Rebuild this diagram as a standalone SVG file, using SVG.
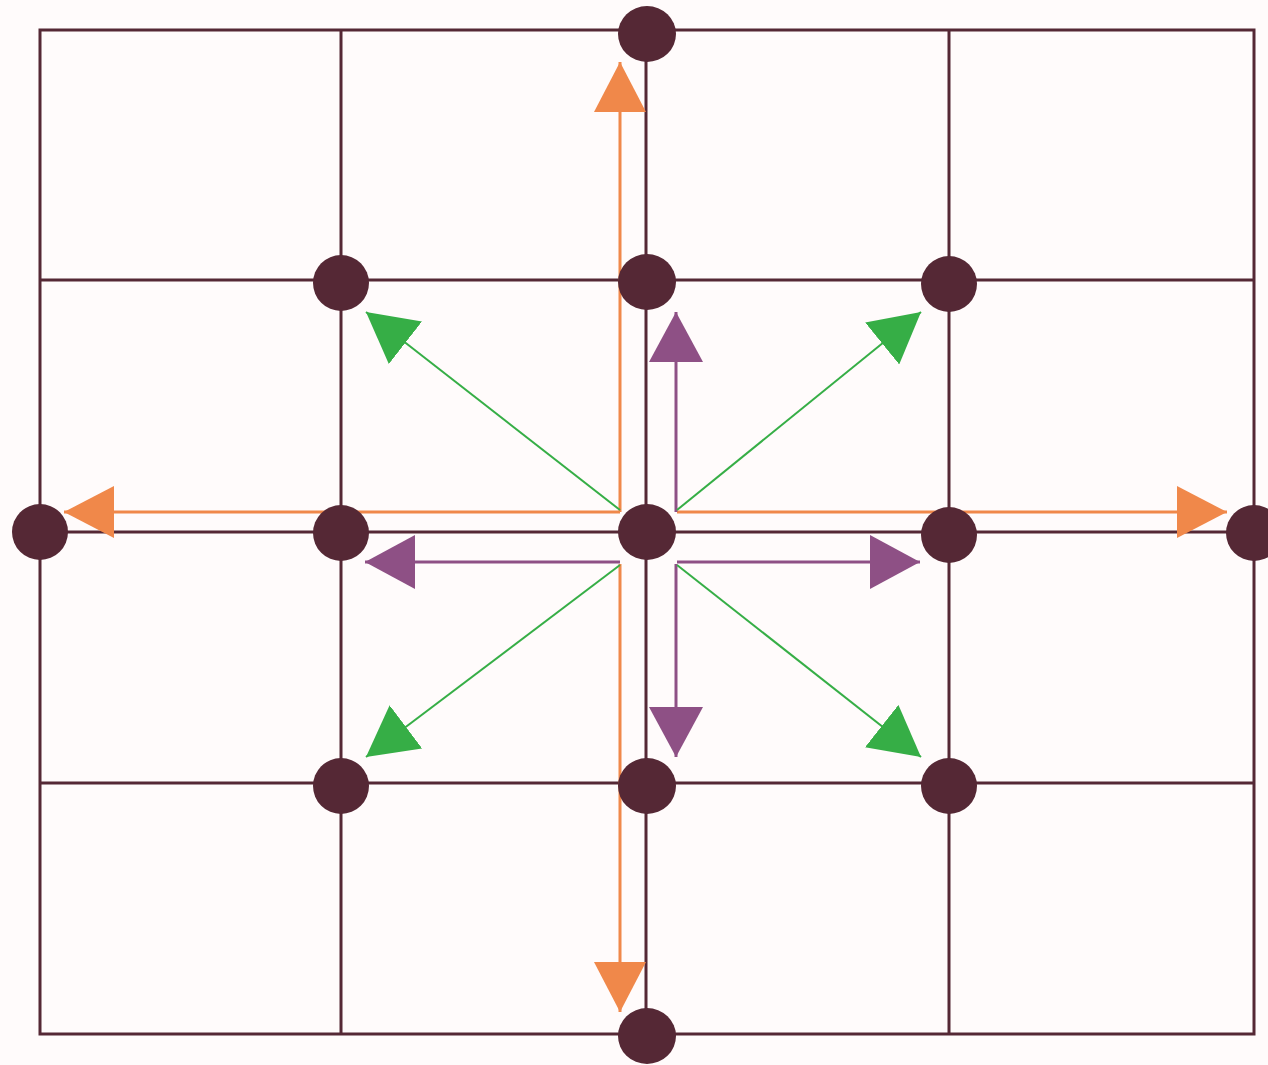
<svg xmlns="http://www.w3.org/2000/svg" width="1268" height="1065" viewBox="0 0 1268 1065">
<style>
.grid{stroke:#552835;stroke-width:3;fill:none}
.node{fill:#552835}
.o{stroke:#f0884a;stroke-width:3;fill:none}
.p{stroke:#8e5085;stroke-width:3;fill:none}
.g{stroke:#36ae46;stroke-width:2;fill:none}
</style>
<defs>
<marker id="ao" markerUnits="userSpaceOnUse" viewBox="0 0 50 52" refX="50" refY="26" markerWidth="50" markerHeight="52" orient="auto"><path d="M0,0 L50,26 L0,52 z" fill="#f0884a"/></marker>
<marker id="ap" markerUnits="userSpaceOnUse" viewBox="0 0 50 54" refX="50" refY="27" markerWidth="50" markerHeight="54" orient="auto"><path d="M0,0 L50,27 L0,54 z" fill="#8e5085"/></marker>
<marker id="ag" markerUnits="userSpaceOnUse" viewBox="0 0 50 54" refX="50" refY="27" markerWidth="50" markerHeight="54" orient="auto"><path d="M0,0 L50,27 L0,54 z" fill="#36ae46"/></marker>
</defs>
<rect width="1268" height="1065" fill="#fffbfb"/>
<g id="grid" class="grid">
<rect x="40" y="30" width="1214" height="1004"/>
<line x1="341" y1="30" x2="341" y2="1034"/>
<line x1="646" y1="30" x2="646" y2="1034"/>
<line x1="949" y1="30" x2="949" y2="1034"/>
<line x1="40" y1="280" x2="1254" y2="280"/>
<line x1="40" y1="532" x2="1254" y2="532"/>
<line x1="40" y1="783" x2="1254" y2="783"/>
</g>
<g id="connectors">
<line class="o" x1="620" y1="512" x2="620" y2="62" marker-end="url(#ao)"/>
<line class="o" x1="620" y1="512" x2="64" y2="512" marker-end="url(#ao)"/>
<line class="o" x1="677" y1="512" x2="1227" y2="512" marker-end="url(#ao)"/>
<line class="o" x1="620" y1="564" x2="620" y2="1012" marker-end="url(#ao)"/>
<line class="p" x1="676" y1="512" x2="676" y2="312" marker-end="url(#ap)"/>
<line class="p" x1="620" y1="562" x2="365" y2="562" marker-end="url(#ap)"/>
<line class="p" x1="677" y1="562" x2="920" y2="562" marker-end="url(#ap)"/>
<line class="p" x1="676" y1="564" x2="676" y2="757" marker-end="url(#ap)"/>
<line class="g" x1="620" y1="510" x2="366" y2="312" marker-end="url(#ag)"/>
<line class="g" x1="677" y1="510" x2="921" y2="312" marker-end="url(#ag)"/>
<line class="g" x1="620" y1="565" x2="366" y2="757" marker-end="url(#ag)"/>
<line class="g" x1="677" y1="565" x2="921" y2="757" marker-end="url(#ag)"/>
</g>
<g id="n-top"><ellipse class="node" cx="647" cy="34" rx="29" ry="28"/></g>
<g id="n-r1c1"><ellipse class="node" cx="341" cy="283" rx="28" ry="28"/></g>
<g id="n-r1c2"><ellipse class="node" cx="647" cy="282" rx="29" ry="28"/></g>
<g id="n-r1c3"><ellipse class="node" cx="949" cy="284" rx="28" ry="28"/></g>
<g id="n-left"><ellipse class="node" cx="40" cy="532" rx="28" ry="28"/></g>
<g id="n-r2c1"><ellipse class="node" cx="341" cy="533" rx="28" ry="28"/></g>
<g id="n-center"><ellipse class="node" cx="647" cy="532" rx="29" ry="28"/></g>
<g id="n-r2c3"><ellipse class="node" cx="949" cy="535" rx="28" ry="28"/></g>
<g id="n-right"><ellipse class="node" cx="1254" cy="533" rx="28" ry="28"/></g>
<g id="n-r3c1"><ellipse class="node" cx="341" cy="786" rx="28" ry="28"/></g>
<g id="n-r3c2"><ellipse class="node" cx="647" cy="786" rx="29" ry="28"/></g>
<g id="n-r3c3"><ellipse class="node" cx="949" cy="786" rx="28" ry="28"/></g>
<g id="n-bottom"><ellipse class="node" cx="647" cy="1036" rx="29" ry="28"/></g>
</svg>
